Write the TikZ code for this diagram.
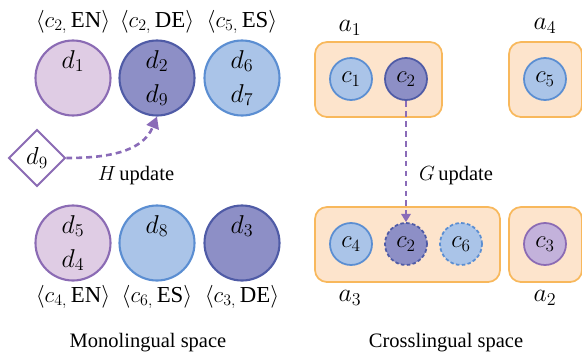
\documentclass[tikz,border=0pt]{standalone}
\usepackage{fix-cm}
\usepackage{fontspec}
\setmainfont{Liberation Serif}
\usetikzlibrary{arrows.meta,shapes.geometric}

\definecolor{enfill}{HTML}{DFCCE4}
\definecolor{endraw}{HTML}{8B6BB4}
\definecolor{defill}{HTML}{8D8FC6}
\definecolor{dedraw}{HTML}{4F5BA6}
\definecolor{esfill}{HTML}{AAC4E8}
\definecolor{esdraw}{HTML}{5B8ED2}
\definecolor{areafill}{HTML}{FDE4CC}
\definecolor{areadraw}{HTML}{F8B85C}
\definecolor{cfill}{HTML}{C3B2DB}
\definecolor{updcolor}{HTML}{8A6BB8}

\tikzset{
  bigc/.style={circle, line width=1.8pt, minimum size=2.25cm, inner sep=0pt,
    align=center, font=\fontsize{22}{29}\selectfont},
  smallc/.style={circle, line width=1.5pt, minimum size=1.26cm, inner sep=0pt,
    font=\fontsize{21}{24}\selectfont},
  en/.style={fill=enfill, draw=endraw},
  de/.style={fill=defill, draw=dedraw},
  es/.style={fill=esfill, draw=esdraw},
  dashc/.style={dash pattern=on 3pt off 2pt},
  area/.style={rectangle, rounded corners=0.36cm, fill=areafill, draw=areadraw,
    line width=1.5pt, minimum height=2.25cm, inner sep=0pt},
  alabel/.style={font=\fontsize{22}{24}\selectfont},
  clabel/.style={font=\fontsize{19.5}{22}\selectfont},
  upd/.style={draw=updcolor, dash pattern=on 5pt off 3.5pt}
}

\begin{document}
\begin{tikzpicture}[x=0.03cm, y=-0.03cm, font=\fontsize{17.5}{20}\selectfont]
  \useasboundingbox (0,0) rectangle (582,354);

  % monolingual space
  \node[bigc, en] (m1) at (73,78) {$d_1$\\\phantom{$d_1$}};
  \node[bigc, de] (m2) at (157,78) {$d_2$\\$d_9$};
  \node[bigc, es] (m3) at (242,78) {$d_6$\\$d_7$};
  \node[clabel] (l1) at (73,22) {$\langle c_{2,}$\,EN$\rangle$};
  \node[clabel] (l2) at (157,22) {$\langle c_{2,}$\,DE$\rangle$};
  \node[clabel] (l3) at (242,22) {$\langle c_{5,}$\,ES$\rangle$};

  \node[bigc, en] (m4) at (73,243) {$d_5$\\$d_4$};
  \node[bigc, es] (m5) at (157,243) {$d_8$\\\phantom{$d_8$}};
  \node[bigc, de] (m6) at (242,243) {$d_3$\\\phantom{$d_3$}};
  \node[clabel] (l4) at (73,297) {$\langle c_{4,}$\,EN$\rangle$};
  \node[clabel] (l5) at (157,297) {$\langle c_{6,}$\,ES$\rangle$};
  \node[clabel] (l6) at (242,297) {$\langle c_{3,}$\,DE$\rangle$};

  \node[diamond, draw=endraw, fill=white, line width=1.6pt, minimum size=1.7cm,
    inner sep=0pt, font=\fontsize{21}{24}\selectfont] (dia) at (37,158) {$d_9$};
  \draw[upd, line width=2.2pt, -{Triangle[length=10pt,width=11pt]}]
    (dia.east) to[out=0,in=-112] (m2.south);
  \node (hup) at (136,176) {$H$\,update};

  \node (mono) at (148,343) {Monolingual space};

  % crosslingual space
  \node[area, minimum width=3.81cm] (a1) at (378.5,79.5) {};
  \node[area, minimum width=2.19cm] (a4) at (545.5,79.5) {};
  \node[area, minimum width=5.55cm] (a3) at (407.5,244.5) {};
  \node[area, minimum width=2.19cm] (a2) at (545.5,244.5) {};
  \node[alabel] (la1) at (350,28) {$a_1$};
  \node[alabel] (la4) at (545,26) {$a_4$};
  \node[alabel] (la3) at (350,298) {$a_3$};
  \node[alabel] (la2) at (545,298) {$a_2$};

  \node[smallc, es] (c1) at (351,79) {$c_1$};
  \node[smallc, de] (c2) at (406,79) {$c_2$};
  \node[smallc, es] (c5) at (545,79) {$c_5$};
  \node[smallc, es] (c4) at (351,244) {$c_4$};
  \node[smallc, de, dashc] (c2n) at (406,244) {$c_2$};
  \node[smallc, es, dashc] (c6) at (461,244) {$c_6$};
  \node[smallc, fill=cfill, draw=endraw] (c3) at (545,244) {$c_3$};

  \draw[upd, line width=1.8pt, -{Triangle[length=7pt,width=8pt]}]
    (c2.south) -- (c2n.north);
  \node (gup) at (456,176) {$G$\,update};

  \node (cross) at (446,343) {Crosslingual space};
\end{tikzpicture}
\end{document}
